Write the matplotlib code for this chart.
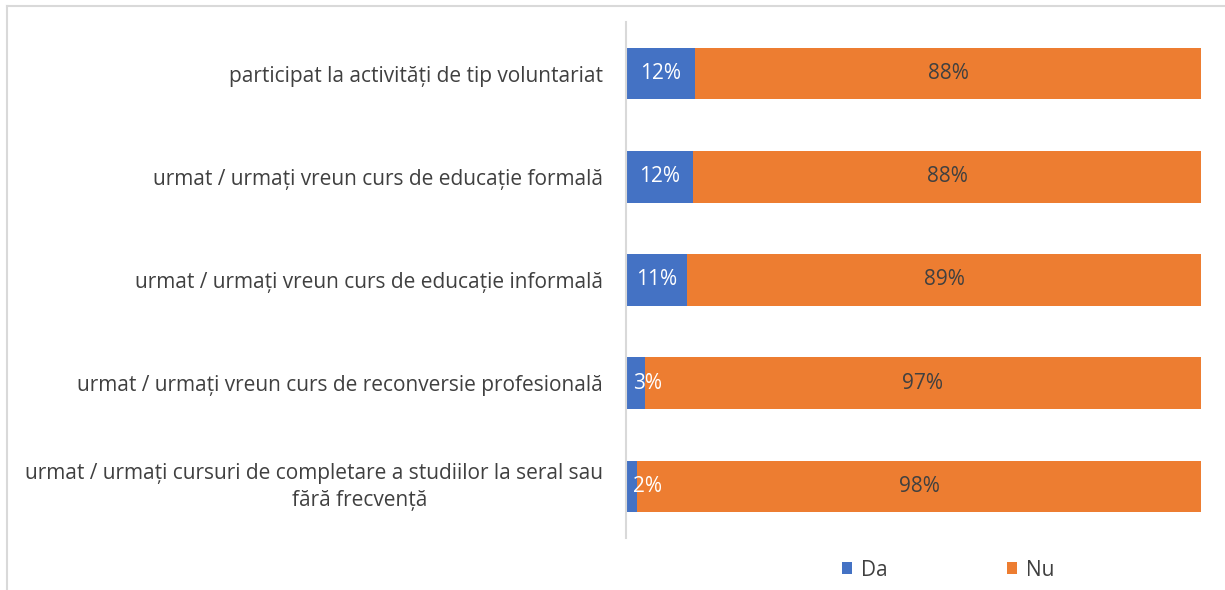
import matplotlib.pyplot as plt
import numpy as np

categories = [
    "participat la activități de tip voluntariat",
    "urmat / urmați vreun curs de educație formală",
    "urmat / urmați vreun curs de educație informală",
    "urmat / urmați vreun curs de reconversie profesională",
    "urmat / urmați cursuri de completare a studiilor la seral sau",
]
last_line2 = "fără frecvență"
da_vals = [12.0, 11.7, 10.6, 3.3, 1.9]
nu_vals = [88.0, 88.3, 89.4, 96.7, 98.1]
da_labels = ["12%", "12%", "11%", "3%", "2%"]
nu_labels = ["88%", "88%", "89%", "97%", "98%"]

blue = "#4472C4"
orange = "#ED7D31"
txt = "#404040"
fs = 15

plt.rcParams['font.family'] = ['Open Sans', 'DejaVu Sans']

fig = plt.figure(figsize=(12.25, 5.9), dpi=100)
ax = fig.add_axes([626 / 1225, 1 - 538 / 590, 575 / 1225, 516 / 590])

y = np.arange(len(categories))
b1 = ax.barh(y, da_vals, height=0.5, color=blue, label="Da")
b2 = ax.barh(y, nu_vals, left=da_vals, height=0.5, color=orange, label="Nu")

# small segments: label pushed right so it stays readable (like excel does)
for rect, lab in zip(b1, da_labels):
    cx = max(rect.get_x() + rect.get_width() / 2, 3.7)
    ax.text(cx, rect.get_y() + rect.get_height() / 2,
            lab, ha='center', va='center', color='white', fontsize=fs)
for rect, lab in zip(b2, nu_labels):
    ax.text(rect.get_x() + rect.get_width() / 2, rect.get_y() + rect.get_height() / 2,
            lab, ha='center', va='center', color=txt, fontsize=fs)

ax.set_xlim(0, 100)
ax.set_ylim(len(categories) - 0.5, -0.5)
ax.set_yticks(y)
ax.set_yticklabels(categories[:-1] + [""], fontsize=fs, color=txt)
# wrapped last label, drawn as two lines
ytr = ax.get_yaxis_transform()
ax.text(-0.040, 4 - 0.125, categories[-1], transform=ytr,
        ha='right', va='center', fontsize=fs, color=txt)
ax.text(-0.463, 4 + 0.14, last_line2, transform=ytr,
        ha='center', va='center', fontsize=fs, color=txt)
ax.tick_params(axis='y', length=0, pad=16.5)
ax.set_xticks([])
for s in ['top', 'right', 'bottom']:
    ax.spines[s].set_visible(False)
ax.spines['left'].set_color('#D9D9D9')
ax.spines['left'].set_linewidth(1.5)

fig.legend(handles=[b1, b2], loc='center', bbox_to_anchor=(948 / 1225, 1 - 570 / 590),
           ncol=2, frameon=False, fontsize=fs, handlelength=0.5, handleheight=0.5,
           columnspacing=5.75, labelcolor=txt, handletextpad=0.4)

# chart frame
fig.add_artist(plt.Line2D([7 / 1225, 1], [1 - 6 / 590, 1 - 6 / 590], color='#D9D9D9', lw=1.5))
fig.add_artist(plt.Line2D([7 / 1225, 7 / 1225], [0, 1 - 6 / 590], color='#D9D9D9', lw=1.5))

fig.savefig("out.png", dpi=100)
